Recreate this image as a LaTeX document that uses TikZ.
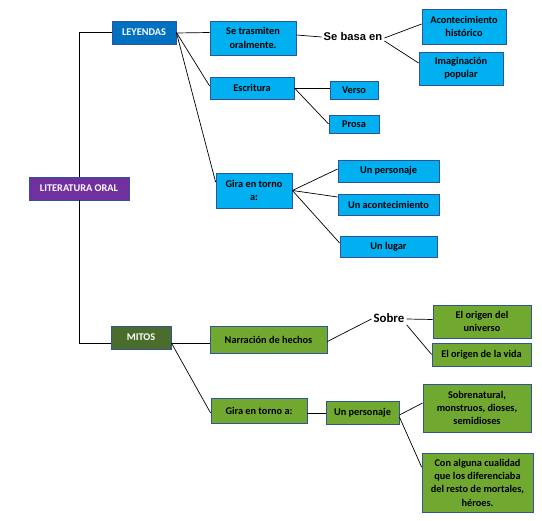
\documentclass[tikz,border=0pt]{standalone}
\usepackage{fontspec}
\setmainfont{Carlito}
\newfontfamily\arialfont{Liberation Sans}
\usetikzlibrary{calc}
\definecolor{leyc}{HTML}{0070C0}
\definecolor{loc}{HTML}{7030A0}
\definecolor{lbc}{HTML}{00B0F0}
\definecolor{mitc}{HTML}{4B6D2B}
\definecolor{grc}{HTML}{70A830}
\definecolor{bdc}{HTML}{2F5597}
\tikzset{
  box/.style={draw=bdc, line width=0.8pt, inner sep=1pt, align=center,
    font=\fontsize{10.3}{13.3}\selectfont\bfseries},
  mainbox/.style={box, text=white},
  lbbox/.style={box, fill=lbc, text=black},
  grbox/.style={box, fill=grc, text=black},
  conn/.style={draw=black, line width=0.7pt},
  freetext/.style={inner sep=2pt}
}
\begin{document}
\begin{tikzpicture}[x=1pt,y=-1pt]
\useasboundingbox (0,0) rectangle (542,521);
% main nodes
\node[mainbox, fill=loc, minimum width=100pt, minimum height=23pt] (lo) at (79,188.5) {LITERATURA ORAL};
\node[mainbox, fill=leyc, minimum width=64pt, minimum height=23pt] (ley) at (144,32.5) {LEYENDAS};
\node[mainbox, fill=mitc, minimum width=60pt, minimum height=23pt] (mit) at (141,337.5) {MITOS};
% leyendas branch
\node[lbbox, minimum width=86pt, minimum height=34pt] (set) at (253,38) {Se trasmiten\\oralmente.};
\node[lbbox, minimum width=84pt, minimum height=22pt] (esc) at (252,88) {Escritura};
\node[lbbox, minimum width=76pt, minimum height=35pt] (giral) at (254,190.5) {Gira en torno\\a:};
\node[freetext, font=\arialfont\fontsize{11.2}{13}\selectfont\bfseries] (basa) at (353,37) {Se basa en};
\node[lbbox, minimum width=84pt, minimum height=35pt] (ach) at (464,26.5) {Acontecimiento\\histórico};
\node[lbbox, minimum width=84pt, minimum height=33pt] (ima) at (461,68.5) {Imaginación\\popular};
\node[lbbox, minimum width=48pt, minimum height=18pt] (ver) at (354,90) {Verso};
\node[lbbox, minimum width=50pt, minimum height=18pt] (pro) at (354,124) {Prosa};
\node[lbbox, minimum width=101pt, minimum height=22pt] (unp) at (388.5,171) {Un personaje};
\node[lbbox, minimum width=101pt, minimum height=21pt] (una) at (388.5,204.5) {Un acontecimiento};
\node[lbbox, minimum width=97pt, minimum height=21pt] (unl) at (388.5,246.5) {Un lugar};
% mitos branch
\node[grbox, minimum width=117pt, minimum height=27pt] (nar) at (268.5,339.5) {Narración de hechos};
\node[grbox, minimum width=96pt, minimum height=25pt] (giram) at (259,410.5) {Gira en torno a:};
\node[freetext, font=\fontsize{12.8}{15}\selectfont\bfseries] (sob) at (389,318) {Sobre};
\node[grbox, minimum width=98pt, minimum height=33pt] (uni) at (482,321.5) {El origen del\\universo};
\node[grbox, minimum width=99pt, minimum height=23pt] (vid) at (481.5,354.5) {El origen de la vida};
\node[grbox, minimum width=73pt, minimum height=23pt] (unpm) at (362.5,412.5) {Un personaje};
\node[grbox, minimum width=108pt, minimum height=48pt] (sobn) at (477,408) {Sobrenatural,\\monstruos, dioses,\\semidioses};
\node[grbox, minimum width=111pt, minimum height=59pt] (con) at (477.5,482.5) {Con alguna cualidad\\que los diferenciaba\\del resto de mortales,\\héroes.};
% connectors
\draw[conn] (ley.west) -| (lo.north);
\draw[conn] (lo.south) |- ([yshift=-5.5pt]mit.west);
\draw[conn] ([yshift=-0.5pt]ley.east) -- ([yshift=5.5pt]set.west);
\draw[conn] (ley.east) -- ([yshift=2pt]esc.west);
\draw[conn] (ley.east) -- ([yshift=8.5pt]giral.west);
\draw[conn] ([yshift=3pt]set.east) -- (basa.west);
\draw[conn] ([yshift=-1pt]basa.east) -- ([yshift=2.5pt]ach.west);
\draw[conn] ([yshift=-4pt]basa.east) -- ([yshift=5.5pt]ima.west);
\draw[conn] (esc.east) -- ([yshift=2pt]ver.west);
\draw[conn] (esc.east) -- (pro.west);
\draw[conn] (giral.east) -- ([yshift=2pt]unp.west);
\draw[conn] (giral.east) -- ([yshift=7.5pt]una.west);
\draw[conn] (giral.east) -- ([yshift=3.5pt]unl.west);
\draw[conn] ([yshift=-5.5pt]mit.east) -- ([yshift=-3.5pt]nar.west);
\draw[conn] ([yshift=-5.5pt]mit.east) -- ([yshift=-2.5pt]giram.west);
\draw[conn] ([yshift=-2pt]nar.east) -- ([yshift=-1pt]sob.west);
\draw[conn] ([yshift=-1pt]sob.east) -- ([yshift=2pt]uni.west);
\draw[conn] (sob.south east) -- (vid.west);
\draw[conn] ([yshift=-2.5pt]giram.east) -- ([yshift=-0.5pt]unpm.west);
\draw[conn] ([yshift=-2.5pt]unpm.east) -- ([yshift=5pt]sobn.west);
\draw[conn] ([yshift=-4.5pt]unpm.east) -- ([yshift=15.5pt]con.west);
\end{tikzpicture}
\end{document}
